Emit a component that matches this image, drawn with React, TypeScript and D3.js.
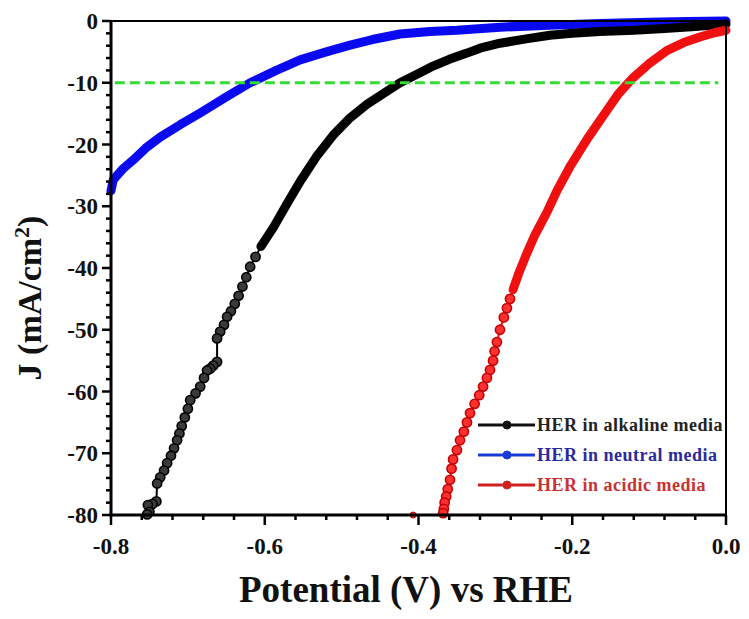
import React from "react";
import * as d3 from "d3";

type P = [number, number];

const xTicks = [-0.8, -0.6, -0.4, -0.2, 0.0];
const yTicks = [0, -10, -20, -30, -40, -50, -60, -70, -80];
const refLine = -10;

const seriesNames = ["HER in alkaline media", "HER in neutral media", "HER in acidic media"];

const neutral: P[] = [
  [0.0, 0], [-0.05, -0.1], [-0.1, -0.2], [-0.164, -0.4], [-0.23, -0.7], [-0.294, -1.0],
  [-0.35, -1.5], [-0.385, -1.7], [-0.424, -2.1], [-0.46, -3.0], [-0.489, -3.9], [-0.52, -5.0],
  [-0.554, -6.3], [-0.585, -8.0], [-0.619, -10.0], [-0.65, -12.3], [-0.684, -14.9], [-0.71, -16.8],
  [-0.736, -18.8], [-0.755, -20.6], [-0.771, -22.5], [-0.785, -24.0], [-0.797, -25.7], [-0.8, -27.5],
];

const alkaline: P[] = [
  [0.0, -0.5], [-0.04, -0.9], [-0.08, -1.2], [-0.12, -1.5], [-0.164, -1.7], [-0.2, -2.0],
  [-0.229, -2.3], [-0.26, -2.9], [-0.294, -3.6], [-0.32, -4.4], [-0.337, -5.2], [-0.36, -6.2],
  [-0.381, -7.3], [-0.40, -8.5], [-0.424, -10.0], [-0.445, -11.7], [-0.467, -13.5], [-0.49, -15.8],
  [-0.511, -18.5], [-0.533, -22.0], [-0.554, -26.0], [-0.572, -29.8], [-0.589, -33.5],
  [-0.597, -35.0], [-0.605, -36.5], [-0.612, -38.2], [-0.619, -39.8], [-0.624, -41.5], [-0.629, -43.0],
  [-0.634, -44.5], [-0.639, -45.8], [-0.644, -47.0], [-0.649, -47.9], [-0.653, -49.2], [-0.658, -50.3],
  [-0.662, -51.4], [-0.662, -55.2], [-0.667, -55.8], [-0.671, -56.3], [-0.675, -56.6], [-0.679, -57.8],
  [-0.684, -59.2], [-0.69, -60.3], [-0.697, -61.4], [-0.70, -62.8], [-0.704, -64.2], [-0.708, -65.6],
  [-0.711, -66.8], [-0.714, -67.9], [-0.718, -69.2], [-0.722, -70.4], [-0.727, -71.6], [-0.731, -72.8],
  [-0.736, -73.9], [-0.740, -74.9], [-0.741, -77.8], [-0.746, -78.2], [-0.752, -78.4], [-0.750, -79.5],
  [-0.753, -79.9],
];

const acidic: P[] = [
  [0.0, -1.5], [-0.015, -1.9], [-0.034, -2.6], [-0.055, -3.5], [-0.077, -4.8], [-0.1, -6.9],
  [-0.121, -9.2], [-0.14, -11.8], [-0.155, -14.5], [-0.18, -19.0], [-0.203, -23.6], [-0.22, -27.5],
  [-0.233, -31.0], [-0.248, -34.5], [-0.259, -37.6], [-0.27, -41.0], [-0.277, -43.5], [-0.281, -45.0],
  [-0.285, -46.5], [-0.289, -48.0], [-0.294, -50.0], [-0.298, -52.0], [-0.301, -53.5], [-0.303, -55.0],
  [-0.307, -56.5], [-0.311, -57.8], [-0.316, -59.2], [-0.321, -60.6], [-0.327, -62.0], [-0.333, -63.5],
  [-0.337, -65.0], [-0.341, -66.5], [-0.346, -67.9], [-0.35, -69.5], [-0.355, -71.0], [-0.357, -72.5],
  [-0.359, -74.3], [-0.362, -75.8], [-0.364, -77.0], [-0.366, -78.0], [-0.367, -79.0], [-0.368, -79.7],
];
const acidicStray: P[] = [[-0.407, -80]];

const W = 749, H = 619;
const L = 111, R = 726, T = 21, B = 515;
const FONT = "'Liberation Serif', 'Times New Roman', serif";

export default function App() {
  const x = d3.scaleLinear().domain([-0.8, 0]).range([L, R]);
  const y = d3.scaleLinear().domain([-80, 0]).range([B, T]);
  const line = d3.line<P>().x((d) => x(d[0])).y((d) => y(d[1]));

  const series = [
    { data: neutral, denseTo: -100, color: "#0a0af0", stroke: "#0000a0", fill: "#1a1aff" },
    { data: alkaline, denseTo: -38, color: "#000", stroke: "#000", fill: "#3a3a3a" },
    { data: acidic, denseTo: -44, color: "#f01010", stroke: "#c40000", fill: "#ff3030" },
  ];

  const yMinor = d3.range(-80, 0.1, 2).filter((v) => Math.abs(v % 10) > 0.01);
  const xMinor = d3.range(0, 21).map((i) => -0.8 + i * 0.04).filter((_, i) => i % 5 !== 0);

  const legend = [
    { name: seriesNames[0], line: "#111", text: "#222" },
    { name: seriesNames[1], line: "#1a3ad8", text: "#2a2aa0" },
    { name: seriesNames[2], line: "#d02020", text: "#c83232" },
  ];

  return (
    <svg width={W} height={H} style={{ position: "absolute", left: 0, top: 0, background: "#fff" }}>
      {series.map((s, i) => {
        const dense = s.data.filter((d) => d[1] >= s.denseTo);
        const sparse = s.data.filter((d) => d[1] < s.denseTo);
        return (
          <g key={i}>
            <path d={line(dense) || ""} fill="none" stroke={s.color} strokeWidth={9}
              strokeLinejoin="round" strokeLinecap="round" />
            <path d={line(s.data) || ""} fill="none" stroke={s.color} strokeWidth={2} />
            {sparse.map((d, j) => (
              <circle key={j} cx={x(d[0])} cy={y(d[1])} r={4.6} fill={s.fill} stroke={s.stroke} strokeWidth={1.6} />
            ))}
          </g>
        );
      })}
      {acidicStray.map((d, j) => (
        <circle key={j} cx={x(d[0])} cy={y(d[1])} r={3} fill="#ff3030" stroke="#c00000" strokeWidth={1} />
      ))}

      <line x1={x(-0.795)} x2={x(-0.01)} y1={y(refLine)} y2={y(refLine)} stroke="#33dd33"
        strokeWidth={3.2} strokeDasharray="10 5" />

      {/* frame */}
      <line x1={L} x2={R} y1={T} y2={T} stroke="#000" strokeWidth={2} />
      <line x1={R} x2={R} y1={T} y2={B} stroke="#000" strokeWidth={2} />
      <line x1={L} x2={L} y1={T - 1} y2={B + 1.5} stroke="#000" strokeWidth={3} />
      <line x1={L - 1.5} x2={R + 1} y1={B} y2={B} stroke="#000" strokeWidth={3} />

      {yTicks.map((v) => (
        <g key={"yt" + v}>
          <line x1={L - 9} x2={L} y1={y(v)} y2={y(v)} stroke="#000" strokeWidth={2.5} />
          <text x={L - 13} y={y(v)} dy="0.35em" textAnchor="end" fontFamily={FONT} fontWeight="bold"
            fontSize={23} fill="#111">{v}</text>
        </g>
      ))}
      {yMinor.map((v) => (
        <line key={"ym" + v} x1={L - 5} x2={L} y1={y(v)} y2={y(v)} stroke="#000" strokeWidth={2.5} />
      ))}
      {xTicks.map((v) => (
        <g key={"xt" + v}>
          <line x1={x(v)} x2={x(v)} y1={B} y2={B + 10} stroke="#000" strokeWidth={2.5} />
          <text x={x(v)} y={554} textAnchor="middle" fontFamily={FONT} fontWeight="bold" fontSize={23}
            fill="#111">{v === 0 ? "0.0" : v.toFixed(1)}</text>
        </g>
      ))}
      {xMinor.map((v) => (
        <line key={"xm" + v} x1={x(v)} x2={x(v)} y1={B} y2={B + 5} stroke="#000" strokeWidth={2.5} />
      ))}

      <text x={406} y={602} textAnchor="middle" fontFamily={FONT} fontWeight="bold" fontSize={37} fill="#111">
        Potential (V) vs RHE
      </text>
      <text transform="translate(41,298) rotate(-90)" textAnchor="middle" fontFamily={FONT} fontWeight="bold"
        fontSize={34} fill="#111">
        J (mA/cm<tspan dy="-12" fontSize={22}>2</tspan><tspan dy="12">)</tspan>
      </text>

      {legend.map((l, i) => {
        const cy = 425 + i * 30;
        return (
          <g key={i}>
            <line x1={478} x2={535} y1={cy} y2={cy} stroke={l.line} strokeWidth={3} />
            <circle cx={507} cy={cy} r={4} fill={l.line} stroke={l.line} />
            <text x={537} y={cy} dy="0.35em" fontFamily={FONT} fontWeight="bold" fontSize={18}
              letterSpacing={0.5} fill={l.text}>{l.name}</text>
          </g>
        );
      })}
    </svg>
  );
}
